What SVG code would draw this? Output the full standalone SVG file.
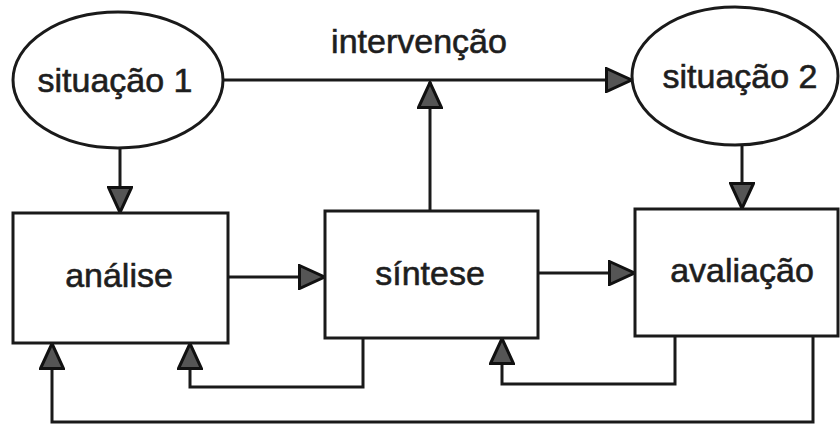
<svg xmlns="http://www.w3.org/2000/svg" width="840" height="427" viewBox="0 0 840 427">
<style>
.shape{fill:#fff;stroke:#1a1a1a;stroke-width:3}
.lbl{font-family:"Liberation Sans",Arial,sans-serif;font-size:34px;fill:#1e1e1e;stroke:#1e1e1e;stroke-width:0.6;text-anchor:middle}
.conn{fill:none;stroke:#1a1a1a;stroke-width:3}
</style>
<defs>
<marker id="tri" viewBox="0 0 28 26" refX="27" refY="13" markerWidth="28" markerHeight="26" markerUnits="userSpaceOnUse" orient="auto">
<path d="M1.5,1.5 L26.5,13 L1.5,24.5 Z" fill="#555" stroke="#111" stroke-width="3" stroke-linejoin="miter"/>
</marker>
</defs>
<rect width="840" height="427" fill="#fff"/>
<g id="connectors">
<path class="conn" d="M223,80 L632,80" marker-end="url(#tri)"/>
<path class="conn" d="M430,211 L430,82" marker-end="url(#tri)"/>
<path class="conn" d="M120,148 L120,213" marker-end="url(#tri)"/>
<path class="conn" d="M742,145 L742,209" marker-end="url(#tri)"/>
<path class="conn" d="M228,277 L325,277" marker-end="url(#tri)"/>
<path class="conn" d="M538,273 L635,273" marker-end="url(#tri)"/>
<path class="conn" d="M363,338 L363,387 L190,387 L190,343" marker-end="url(#tri)"/>
<path class="conn" d="M675,336 L675,384 L502,384 L502,338" marker-end="url(#tri)"/>
<path class="conn" d="M813,336 L813,422 L52,422 L52,343" marker-end="url(#tri)"/>
</g>
<g id="label-intervencao">
<text class="lbl" x="419" y="53">intervenção</text>
</g>
<g id="situacao1">
<ellipse class="shape" cx="118" cy="80" rx="105" ry="68"/>
<text class="lbl" x="115" y="92">situação 1</text>
</g>
<g id="situacao2">
<ellipse class="shape" cx="735" cy="76" rx="103" ry="69"/>
<text class="lbl" x="740" y="88">situação 2</text>
</g>
<g id="analise">
<rect class="shape" x="13" y="213" width="215" height="130"/>
<text class="lbl" x="119" y="287">análise</text>
</g>
<g id="sintese">
<rect class="shape" x="325" y="211" width="213" height="127"/>
<text class="lbl" x="430" y="285">síntese</text>
</g>
<g id="avaliacao">
<rect class="shape" x="635" y="209" width="203" height="127"/>
<text class="lbl" x="742" y="282">avaliação</text>
</g>
</svg>
